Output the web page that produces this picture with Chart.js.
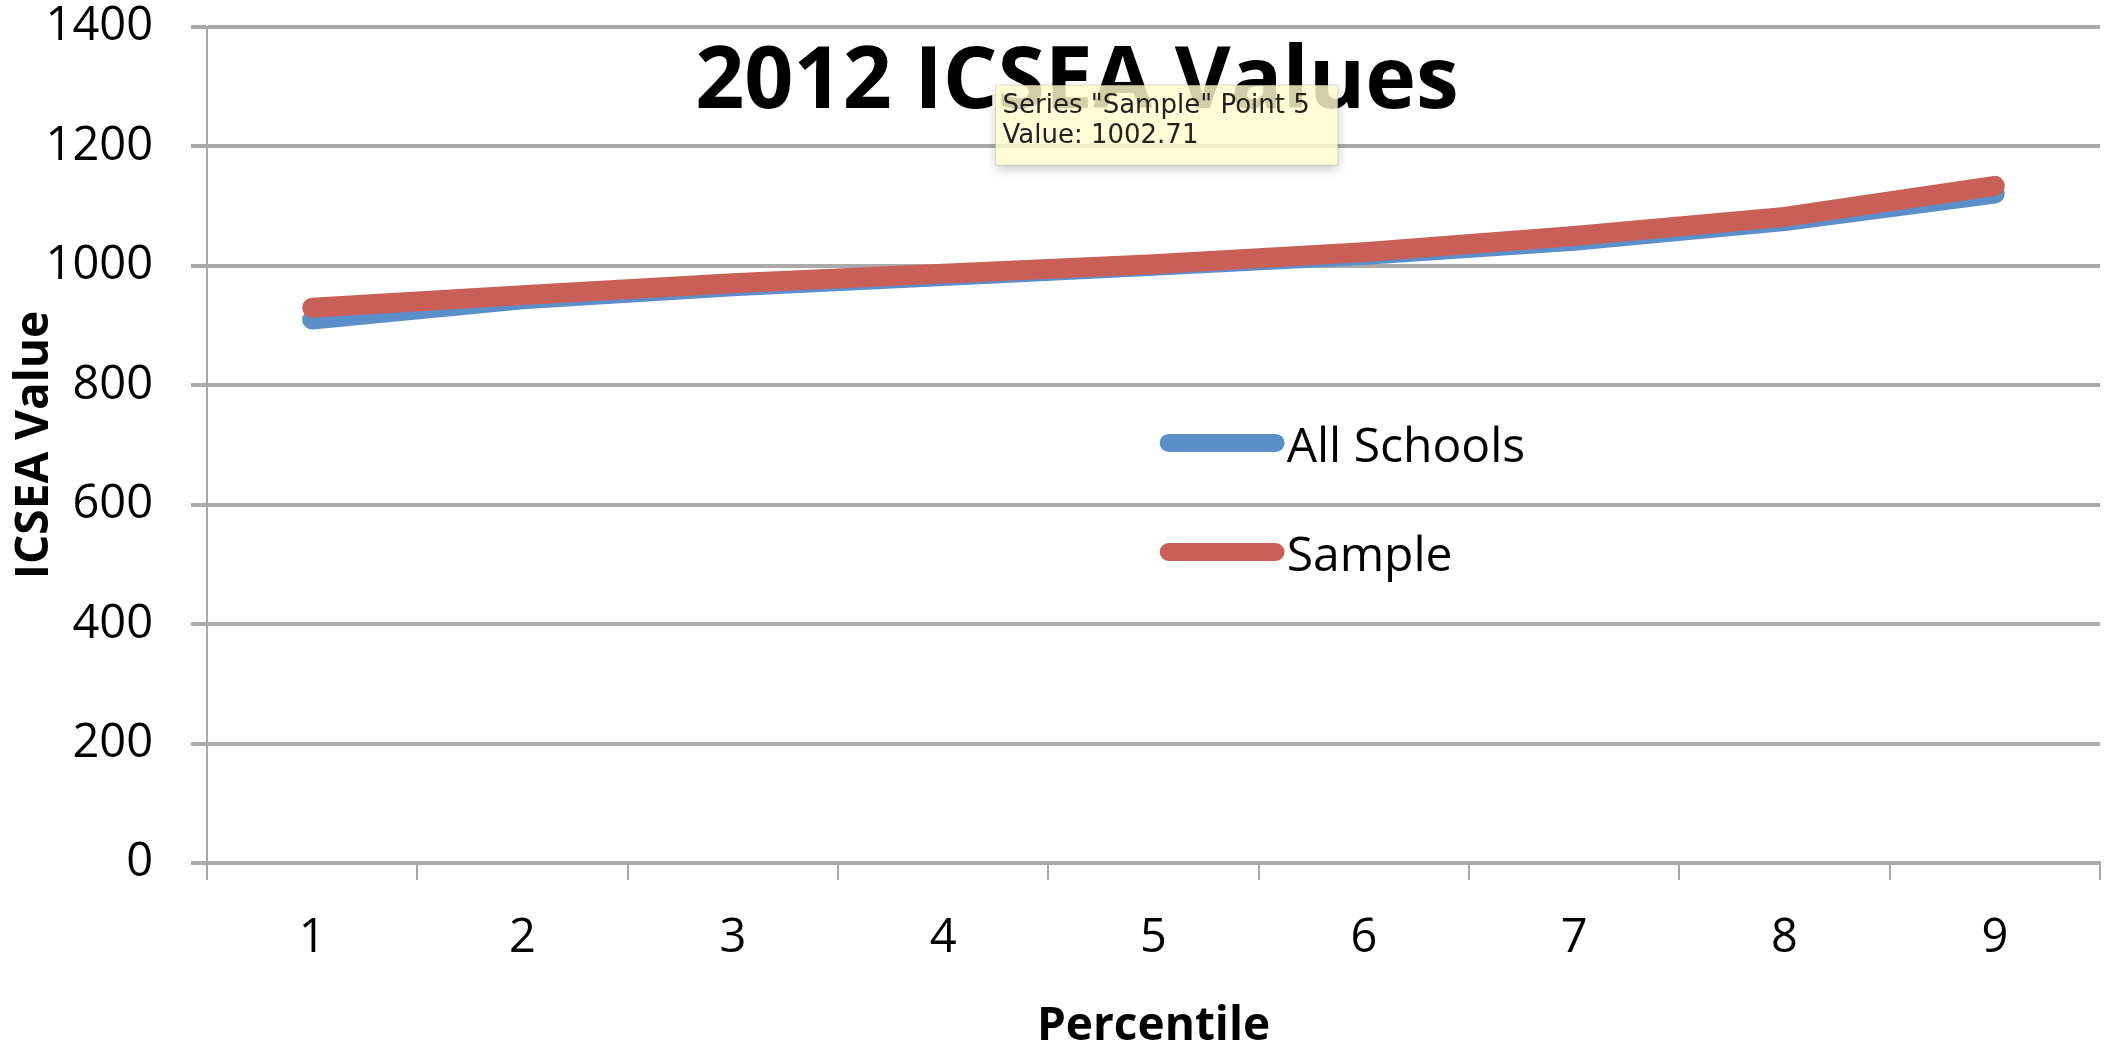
<!DOCTYPE html>
<html>
<head>
<meta charset="utf-8">
<title>2012 ICSEA Values</title>
<script src="https://cdn.jsdelivr.net/npm/chart.js@4.4.1/dist/chart.umd.min.js"></script>
<style>
  html, body { margin:0; padding:0; background:#fff; }
  #wrap { position:relative; width:2116px; height:1043px; }
</style>
</head>
<body>
<div id="wrap"><canvas id="icseaChart"></canvas></div>
<script>
// ====== data ======
const percentiles = ['1', '2', '3', '4', '5', '6', '7', '8', '9'];
const allSchools  = [910, 944, 966, 983, 1000, 1018, 1042, 1075, 1121];
const sample      = [930, 951, 971, 987, 1002.71, 1023, 1050, 1082, 1134];
const seriesNames = ['All Schools', 'Sample'];
const yMin = 0, yMax = 1400, yStep = 200;

const chartTitle = '2012 ICSEA Values';
const xTitle = 'Percentile';
const yTitle = 'ICSEA Value';

// the point the hover box is showing
const hoverSeries = 1, hoverIndex = 4;

// ====== styles ======
const BLUE = '#5B8FC9';
const RED = '#C96058';
const GRID = '#aaaaaa';
const FONT = 'Open Sans';
const Y_AXIS_WIDTH = 207;

// title + legend sit inside the plot area, so they're drawn by hand
const overlay = {
  id: 'overlay',
  afterDatasetsDraw(chart){
    const {ctx, chartArea: a} = chart;
    ctx.save();
    ctx.fillStyle = '#000';
    ctx.font = `bold 86px "${FONT}"`;
    ctx.textAlign = 'center';
    ctx.textBaseline = 'alphabetic';
    ctx.fillText(chartTitle, 1077, 108);

    // legend rows
    const lx = a.left + a.width * 0.508;
    const rows = [a.top + a.height * 0.4975, a.top + a.height * 0.628];
    ctx.font = `48px "${FONT}"`;
    ctx.textAlign = 'left';
    ctx.textBaseline = 'middle';
    chart.data.datasets.forEach((ds, i) => {
      const y = rows[i];
      ctx.strokeStyle = ds.borderColor;
      ctx.lineWidth = 18;
      ctx.lineCap = 'round';
      ctx.beginPath();
      ctx.moveTo(lx, y);
      ctx.lineTo(lx + 107, y);
      ctx.stroke();
      ctx.fillStyle = '#000';
      ctx.fillText(ds.label, lx + 118, y + 5);
    });
    ctx.restore();
  }
};

// soft drop shadow under the hover box (shadow only, box stays see-through)
const tipShadow = {
  id: 'tipShadow',
  beforeTooltipDraw(chart, args){
    const t = args.tooltip;
    const ctx = chart.ctx;
    ctx.save();
    ctx.beginPath();
    ctx.rect(0, 0, chart.width, chart.height);
    ctx.rect(t.x, t.y, t.width, t.height);
    ctx.clip('evenodd');
    ctx.shadowColor = 'rgba(0,0,0,0.22)';
    ctx.shadowBlur = 10;
    ctx.shadowOffsetY = 4;
    ctx.fillStyle = '#fff';
    ctx.fillRect(t.x, t.y, t.width, t.height);
    ctx.restore();
  }
};

// hover box sits up-left of the point, where the cursor was
Chart.Tooltip.positioners.cursor = function(items){
  if(!items.length) return false;
  const el = items[0].element;
  return { x: el.x - 158, y: el.y - 179 };
};

const ctx = document.getElementById('icseaChart').getContext('2d');
const chart = new Chart(ctx, {
  type: 'line',
  data: {
    labels: percentiles,
    datasets: [
      { label: seriesNames[0], data: allSchools, borderColor: BLUE, order: 1 },
      { label: seriesNames[1], data: sample, borderColor: RED, order: 0 }
    ]
  },
  options: {
    responsive: true,
    maintainAspectRatio: false,
    animation: false,
    events: [],
    layout: { padding: { top: 27, right: 16, left: 0, bottom: 0 } },
    elements: {
      line: { borderWidth: 20, borderCapStyle: 'round', borderJoinStyle: 'round', tension: 0, fill: false },
      point: { radius: 0, hoverRadius: 0 }
    },
    plugins: {
      legend: { display: false },
      title: { display: false },
      tooltip: {
        position: 'cursor',
        xAlign: 'left',
        yAlign: 'top',
        caretSize: 0,
        caretPadding: 0,
        cornerRadius: 0,
        displayColors: false,
        backgroundColor: 'rgba(255,252,205,0.82)',
        borderColor: 'rgba(0,0,0,0.12)',
        borderWidth: 1,
        titleColor: '#222',
        bodyColor: '#222',
        titleFont: { family: 'DejaVu Sans', size: 26, weight: 'normal', lineHeight: 1.15 },
        bodyFont: { family: 'DejaVu Sans', size: 26, weight: 'normal', lineHeight: 1.15 },
        titleMarginBottom: 0,
        titleSpacing: 0,
        bodySpacing: 0,
        padding: { top: 6, left: 7, right: 28, bottom: 14 },
        callbacks: {
          title: items => `Series "${items[0].dataset.label}" Point ${items[0].dataIndex + 1}`,
          label: item => `Value: ${item.raw}`
        }
      }
    },
    scales: {
      x: {
        type: 'category',
        offset: true,
        grid: { offset: true, drawOnChartArea: false, drawTicks: true, tickLength: 17, color: '#a8a8a8', lineWidth: 2 },
        border: { display: true, color: GRID, width: 4 },
        ticks: { color: '#000', font: { family: FONT, size: 47, lineHeight: 1 }, padding: 35, maxRotation: 0, autoSkip: false },
        title: { display: true, text: xTitle, color: '#000',
                 font: { family: FONT, size: 46, weight: 'bold', lineHeight: 1 },
                 padding: { top: 7, bottom: -7 } }
      },
      y: {
        min: yMin,
        max: yMax,
        grid: { color: GRID, lineWidth: 4, drawTicks: true, tickLength: 16 },
        border: { display: true, color: '#a8a8a8', width: 2 },
        ticks: { stepSize: yStep, color: '#000', font: { family: FONT, size: 47, lineHeight: 1 }, padding: 38,
                 callback: v => String(v) },
        title: { display: true, text: yTitle, color: '#000',
                 font: { family: FONT, size: 46, weight: 'bold', lineHeight: 1 },
                 padding: { top: 12, bottom: 0 } },
        // fixed axis width; top/bottom labels may hang over the plot edge
        afterFit(axis){
          axis.width = Y_AXIS_WIDTH;
          axis.paddingTop = 0;
          axis.paddingBottom = 0;
        }
      }
    }
  },
  plugins: [overlay, tipShadow]
});

chart.tooltip.setActiveElements([{ datasetIndex: hoverSeries, index: hoverIndex }], { x: 0, y: 0 });
chart.update();
</script>
</body>
</html>
